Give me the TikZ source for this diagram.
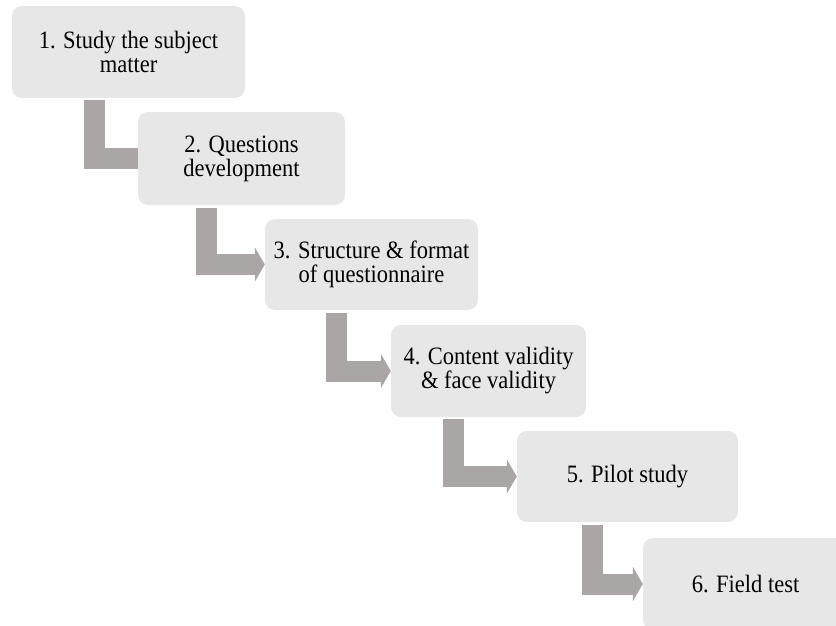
\documentclass[tikz,border=0pt]{standalone}
\usepackage{fontspec}
\setmainfont[FakeStretch=0.9]{Liberation Serif}
\usepackage{tikz}
\usetikzlibrary{arrows.meta,calc,backgrounds}
\definecolor{BoxGray}{RGB}{231,231,231}
\definecolor{ArrowGray}{RGB}{170,166,166}

\begin{document}
\begin{tikzpicture}[x=1pt, y=-1pt,
  stepbox/.style={fill=BoxGray, rounded corners=10pt, align=center, inner sep=0pt,
    font=\fontsize{25}{24}\selectfont},
  bendarrow/.style={draw=ArrowGray, line width=21pt, line join=miter,
    -{Triangle[length=10pt,width=34pt]}}]
\useasboundingbox (0,0) rectangle (836,626);
\clip (0,0) rectangle (836,626);
% steps
\node[stepbox, minimum width=233pt, minimum height=92pt] (s1) at (128.5,52) {1. Study the subject\\matter};
\node[stepbox, minimum width=207pt, minimum height=93pt] (s2) at (241.5,158.5) {2. Questions\\development};
\node[stepbox, minimum width=213pt, minimum height=91pt] (s3) at (371.5,264.5) {3. Structure \& format\\of questionnaire};
\node[stepbox, minimum width=195pt, minimum height=92pt] (s4) at (488.5,371) {4. Content validity\\\& face validity};
\node[stepbox, minimum width=221pt, minimum height=91pt] (s5) at (627.5,476.5) {5. Pilot study};
\node[stepbox, minimum width=205pt, minimum height=92pt] (s6) at (745.5,584) {6. Field test};
% bent arrows behind the steps
\begin{pgfonlayer}{background}
\draw[bendarrow] ($(s1.south west)+(82.5,2)$) |- ($(s2.west)+(12,0)$);
\draw[bendarrow] ($(s2.south west)+(69,3)$) |- (s3.west);
\draw[bendarrow] ($(s3.south west)+(72,3)$) |- (s4.west);
\draw[bendarrow] ($(s4.south west)+(63,2)$) |- (s5.west);
\draw[bendarrow] ($(s5.south west)+(76,3)$) |- (s6.west);
\end{pgfonlayer}
\end{tikzpicture}
\end{document}
